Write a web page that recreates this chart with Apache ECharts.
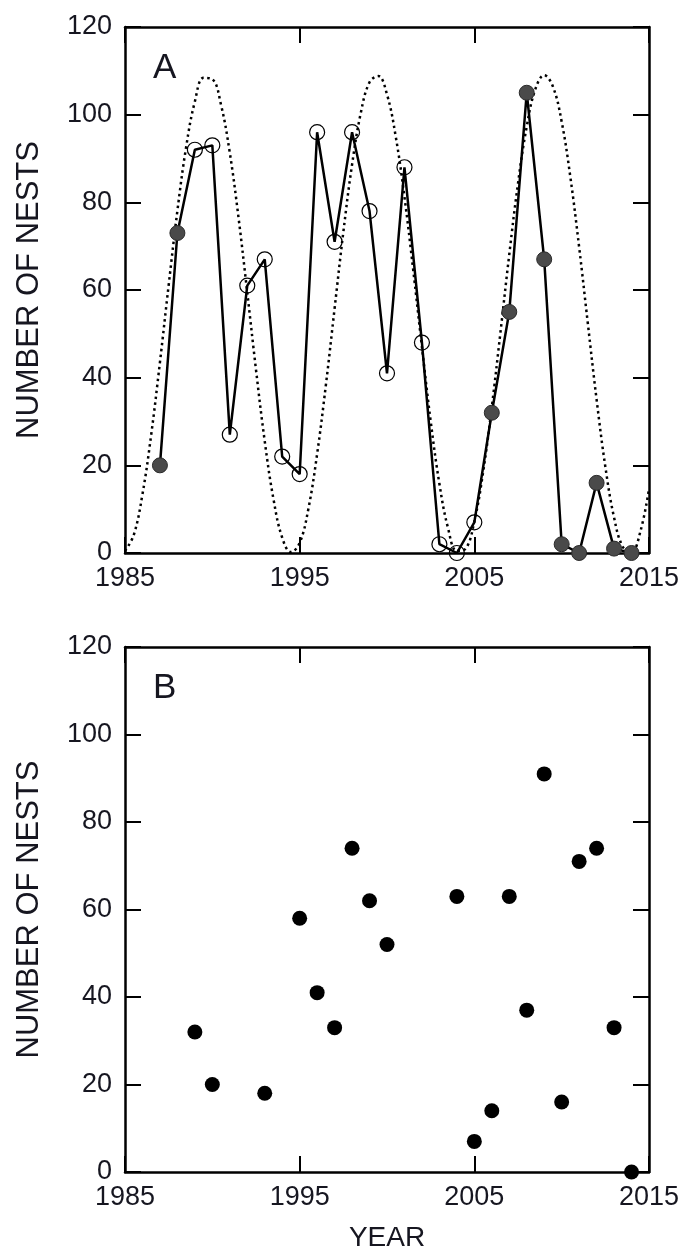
<!DOCTYPE html>
<html>
<head>
<meta charset="utf-8">
<script src="https://cdn.jsdelivr.net/npm/echarts@6/dist/echarts.min.js"></script>
<style>
html,body{margin:0;padding:0;background:#fff;}
#chart{width:693px;height:1253px;}
</style>
</head>
<body>
<div id="chart"></div>
<script>
// Panel A: observed nests
var yearsA = [1987,1988,1989,1990,1991,1992,1993,1994,1995,1996,1997,1998,1999,2000,2001,2002,2003,2004,2005,2006,2007,2008,2009,2010,2011,2012,2013,2014];
var nestsA = [20,73,92,93,27,61,67,22,18,96,71,96,78,41,88,48,2,0,7,32,55,105,67,2,0,16,1,0];
// open-circle years (others are filled)
var openYearsA = [1989,1990,1991,1992,1993,1994,1995,1996,1997,1998,1999,2000,2001,2002,2003,2004,2005];
// dotted cyclic curve
var cycleYears = [1985,1985.5,1986,1986.5,1987,1987.5,1988,1988.5,1989,1989.5,1990,1990.5,1991,1991.5,1992,1992.5,1993,1993.5,1994,1994.5,1995,1995.5,1996,1996.5,1997,1997.5,1998,1998.5,1999,1999.5,2000,2000.5,2001,2001.5,2002,2002.5,2003,2003.5,2004,2004.5,2005,2005.5,2006,2006.5,2007,2007.5,2008,2008.5,2009,2009.5,2010,2010.5,2011,2011.5,2012,2012.5,2013,2013.5,2014,2014.5,2015];
var cycleValues = [0.5,4.1,13.4,27.0,43.5,61.1,78.1,92.6,103.0,108.4,108.1,102.2,91.3,76.5,59.4,41.8,25.5,12.3,3.5,0.2,2.3,10.1,22.6,38.3,55.8,73.2,88.6,100.4,107.4,108.8,104.6,95.0,81.2,64.6,47.0,30.1,15.8,5.6,0.5,1.0,7.2,18.4,33.3,50.5,68.1,84.3,97.3,105.9,109.0,106.4,98.4,85.7,69.8,52.3,35.0,19.7,8.1,1.4,0.3,4.8,14.6];
// Panel B
var yearsB = [1989,1990,1993,1995,1996,1997,1998,1999,2000,2004,2005,2006,2007,2008,2009,2010,2011,2012,2013,2014];
var nestsB = [32,20,18,58,41,33,74,62,52,63,7,14,63,37,91,16,71,74,33,0];
// axis settings
var xTicks = {min:1985, max:2015, interval:10};
var yTicks = {min:0, max:120, interval:20};
var panelLabels = ['A','B'];
var yName = 'NUMBER OF NESTS';
var xName = 'YEAR';

var FONT = '"Liberation Sans", Arial, sans-serif';
var pairs = function(xs, ys){ return xs.map(function(x,i){ return [x, ys[i]]; }); };
var openSet = {}; openYearsA.forEach(function(y){ openSet[y]=true; });
var openData = [], filledData = [];
yearsA.forEach(function(y,i){ (openSet[y] ? openData : filledData).push([y, nestsA[i]]); });

var axisLine = {show:true, onZero:false, lineStyle:{color:'#000', width:2.5}};
var tick = {show:true, inside:true, length:16, lineStyle:{color:'#000', width:2}};
function xAxes(gi, showName){
  return [
    {type:'value', gridIndex:gi, position:'bottom', min:xTicks.min, max:xTicks.max, interval:xTicks.interval,
     axisLine:axisLine, axisTick:tick, splitLine:{show:false},
     axisLabel:{show:true, color:'#161620', fontFamily:FONT, fontSize:27, margin:12, formatter:function(v){return String(v);}},
     name: showName ? xName : '', nameLocation:'middle', nameGap:52,
     nameTextStyle:{color:'#161620', fontFamily:FONT, fontSize:28}},
    {type:'value', gridIndex:gi, position:'top', min:xTicks.min, max:xTicks.max, interval:xTicks.interval,
     axisLine:axisLine, axisTick:tick, axisLabel:{show:false}, splitLine:{show:false}}
  ];
}
function yAxes(gi){
  return [
    {type:'value', gridIndex:gi, position:'left', min:yTicks.min, max:yTicks.max, interval:yTicks.interval,
     axisLine:axisLine, axisTick:tick, splitLine:{show:false},
     axisLabel:{show:true, color:'#161620', fontFamily:FONT, fontSize:27, margin:13},
     name:yName, nameLocation:'middle', nameGap:80,
     nameTextStyle:{color:'#161620', fontFamily:FONT, fontSize:31}},
    {type:'value', gridIndex:gi, position:'right', min:yTicks.min, max:yTicks.max, interval:yTicks.interval,
     axisLine:axisLine, axisTick:tick, axisLabel:{show:false}, splitLine:{show:false}}
  ];
}

var chart = echarts.init(document.getElementById('chart'), null, {renderer:'canvas'});
chart.setOption({
  backgroundColor:'#fff',
  animation:false,
  title:[
    {text:panelLabels[0], left:148, top:46, textStyle:{fontFamily:FONT, fontSize:35, fontWeight:'normal', color:'#161620'}},
    {text:panelLabels[1], left:148, top:666, textStyle:{fontFamily:FONT, fontSize:35, fontWeight:'normal', color:'#161620'}}
  ],
  grid:[
    {left:125, top:27, width:524, height:526},
    {left:125, top:647, width:524, height:525}
  ],
  xAxis: xAxes(0,false).concat(xAxes(1,true)),
  yAxis: yAxes(0).concat(yAxes(1)),
  series:[
    {type:'line', xAxisIndex:0, yAxisIndex:0, data:pairs(cycleYears, cycleValues), smooth:0.4, showSymbol:false,
     lineStyle:{color:'#000', width:2.5, type:[2.5,3.5]}, z:2},
    {type:'line', xAxisIndex:0, yAxisIndex:0, data:pairs(yearsA, nestsA), showSymbol:false,
     lineStyle:{color:'#000', width:2.5}, z:3},
    {type:'scatter', xAxisIndex:0, yAxisIndex:0, data:openData, symbol:'circle', symbolSize:15, clip:false,
     itemStyle:{color:'rgba(255,255,255,0)', borderColor:'#000', borderWidth:1.2, opacity:1}, z:4},
    {type:'scatter', xAxisIndex:0, yAxisIndex:0, data:filledData, symbol:'circle', symbolSize:15, clip:false,
     itemStyle:{color:'#4a4a4a', borderColor:'#2a2a2a', borderWidth:1, opacity:1}, z:4},
    {type:'scatter', xAxisIndex:2, yAxisIndex:2, data:pairs(yearsB, nestsB), symbol:'circle', symbolSize:15, clip:false,
     itemStyle:{color:'#000', opacity:1}, z:4}
  ]
});
</script>
</body>
</html>
